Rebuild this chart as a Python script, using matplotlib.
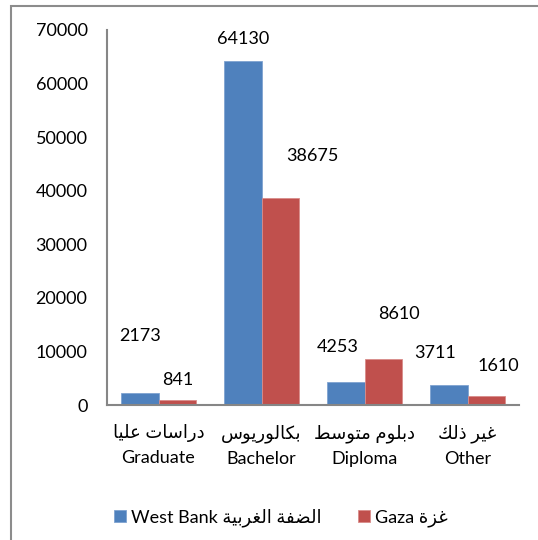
import numpy as np
import matplotlib.pyplot as plt
from matplotlib.patches import Rectangle

# category labels (Arabic line over English line)
cats_ar = ['دراسات عليا', 'بكالوريوس', 'دبلوم متوسط', 'غير ذلك']
cats_en = ['Graduate', 'Bachelor', 'Diploma', 'Other']

west_bank = [2173, 64130, 4253, 3711]
gaza = [841, 38675, 8610, 1610]

series_ar = ['الضفة الغربية', 'غزة']
series_en = ['West Bank', 'Gaza']

yticks = [0, 10000, 20000, 30000, 40000, 50000, 60000, 70000]

# data label offsets (points) as placed in the original chart
wb_offsets = [(0, 41), (0, 16), (-6, 25), (-10, 23)]
gz_offsets = [(0, 15), (23, 30), (11, 32), (9, 22)]

# --- minimal Arabic shaping: presentation forms B + RTL order ---
# base codepoint of isolated form; dual-joining letters have 4 forms, others 2
AR_FORMS = {
    'ا': (0xFE8D, 2), 'ب': (0xFE8F, 4), 'ة': (0xFE93, 2), 'ت': (0xFE95, 4),
    'د': (0xFEA9, 2), 'ذ': (0xFEAB, 2), 'ر': (0xFEAD, 2), 'ز': (0xFEAF, 2),
    'س': (0xFEB1, 4), 'ض': (0xFEBD, 4), 'ط': (0xFEC1, 4), 'ع': (0xFEC9, 4),
    'غ': (0xFECD, 4), 'ف': (0xFED1, 4), 'ك': (0xFED9, 4), 'ل': (0xFEDD, 4),
    'م': (0xFEE1, 4), 'و': (0xFEED, 2), 'ي': (0xFEF1, 4),
}


def shape_ar(text):
    out = []
    for i, ch in enumerate(text):
        if ch not in AR_FORMS:
            out.append(ch)
            continue
        base, n = AR_FORMS[ch]
        prev = text[i - 1] if i > 0 else ''
        nxt = text[i + 1] if i + 1 < len(text) else ''
        join_prev = prev in AR_FORMS and AR_FORMS[prev][1] == 4
        join_next = n == 4 and nxt in AR_FORMS
        if join_prev and join_next:
            code = base + 3
        elif join_prev:
            code = base + 1
        elif join_next:
            code = base + 2
        else:
            code = base
        out.append(chr(code))
    return ''.join(out)[::-1]


plt.rcParams['font.family'] = ['Lato', 'DejaVu Sans']
plt.rcParams['font.size'] = 13

fig = plt.figure(figsize=(5.38, 5.40), dpi=100)
ax = fig.add_axes([107 / 538, 1 - 405 / 540, 412 / 538, 375 / 540])

x = np.arange(len(cats_en))
w = 0.365
blue = '#4F81BD'
red = '#C0504D'
b1 = ax.bar(x - w / 2, west_bank, w, color=blue, edgecolor='#7FA3D1', linewidth=0.6,
            label=series_en[0] + ' ' + shape_ar(series_ar[0]))
b2 = ax.bar(x + w / 2, gaza, w, color=red, edgecolor='#D98C8A', linewidth=0.6,
            label=series_en[1] + ' ' + shape_ar(series_ar[1]))

for bars, vals, offs in [(b1, west_bank, wb_offsets), (b2, gaza, gz_offsets)]:
    for rect, v, (dx, dy) in zip(bars, vals, offs):
        ax.annotate(str(v), (rect.get_x() + rect.get_width() / 2, v),
                    xytext=(dx, dy), textcoords='offset points',
                    ha='center', va='center', fontsize=13)

ax.set_xlim(-0.5, len(cats_en) - 0.5)
ax.set_ylim(0, 70000)
ax.set_yticks(yticks)
ax.set_yticklabels([str(t) for t in yticks])
ax.set_xticks(x)
ax.set_xticklabels([shape_ar(a) + '\n' + e for a, e in zip(cats_ar, cats_en)],
                   linespacing=1.6)
ax.tick_params(axis='y', length=0, pad=14)
ax.tick_params(axis='x', length=0, pad=14)
for s in ['top', 'right']:
    ax.spines[s].set_visible(False)
for s in ['left', 'bottom']:
    ax.spines[s].set_color('#868686')
    ax.spines[s].set_linewidth(1.5)

fig.legend(handles=[b1, b2], loc='center', bbox_to_anchor=(281 / 538, 1 - 518 / 540),
           ncol=2, frameon=False, handlelength=0.65, handleheight=0.65,
           handletextpad=0.3, columnspacing=2.0, fontsize=13)

# outer chart border (cropped at right and bottom in the original)
fig.patches.append(Rectangle((11 / 538, -0.05), 1.1, 1 - 6 / 540 + 0.05,
                             transform=fig.transFigure, fill=False,
                             edgecolor='#8C8C8C', linewidth=1.5))

fig.savefig('out.png', dpi=100)
